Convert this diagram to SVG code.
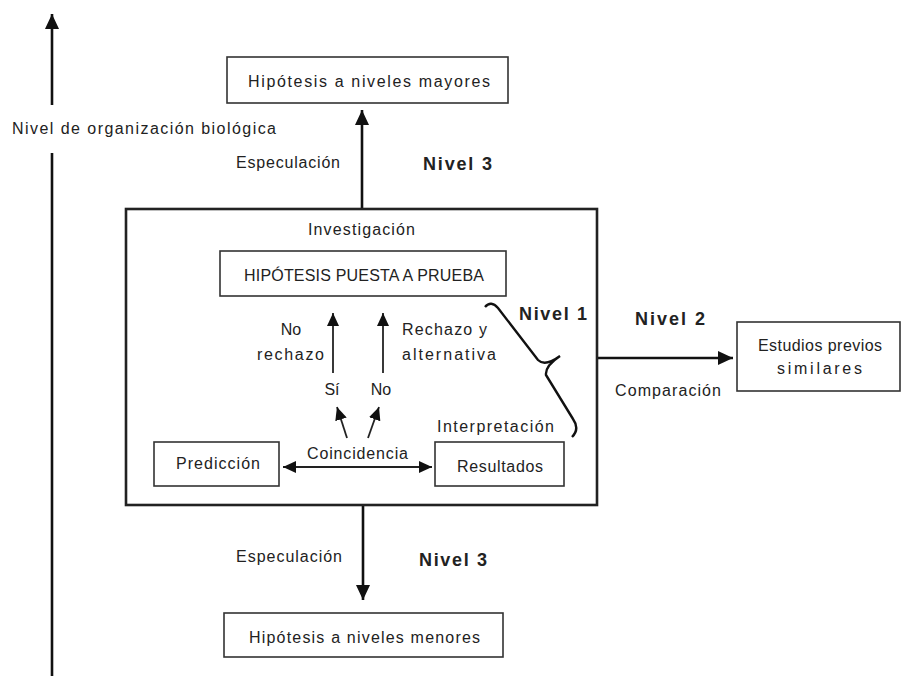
<svg xmlns="http://www.w3.org/2000/svg" width="908" height="676" viewBox="0 0 908 676">
<defs>
<style>
.t{font-family:"Liberation Sans",Arial,sans-serif;font-size:16px;fill:#222}
.b{font-family:"Liberation Sans",Arial,sans-serif;font-size:18px;font-weight:bold;fill:#222}
.box{fill:#fff;stroke:#333;stroke-width:1.6}
.big{fill:none;stroke:#222;stroke-width:2.6}
.ln{fill:none;stroke:#111;stroke-width:2.6}
.thin{fill:none;stroke:#222;stroke-width:1.8}
</style>
<marker id="ah" markerUnits="userSpaceOnUse" markerWidth="16" markerHeight="14" refX="15" refY="7" orient="auto-start-reverse"><path d="M0,0 L15,7 L0,14 z" fill="#111"/></marker>
<marker id="as" markerUnits="userSpaceOnUse" markerWidth="14" markerHeight="12" refX="13" refY="6" orient="auto-start-reverse"><path d="M0,0 L13,6 L0,12 z" fill="#111"/></marker>
</defs>
<rect width="908" height="676" fill="#fff"/>
<g id="connectors">
<line class="ln" x1="52" y1="105" x2="52" y2="14" marker-end="url(#ah)"/>
<line class="ln" x1="52" y1="153" x2="52" y2="676"/>
<line class="ln" x1="362" y1="208" x2="362" y2="110" marker-end="url(#ah)"/>
<line class="ln" x1="363" y1="505" x2="363" y2="600" marker-end="url(#ah)"/>
<line class="ln" x1="597" y1="358" x2="733" y2="358" marker-end="url(#ah)"/>
<line class="thin" x1="333" y1="373" x2="333" y2="313" marker-end="url(#as)"/>
<line class="thin" x1="383" y1="373" x2="383" y2="313" marker-end="url(#as)"/>
<line class="thin" x1="347" y1="438" x2="337" y2="407" marker-end="url(#as)"/>
<line class="thin" x1="368" y1="438" x2="379" y2="407" marker-end="url(#as)"/>
<line class="thin" x1="283" y1="467" x2="432" y2="467" marker-start="url(#as)" marker-end="url(#as)"/>
<path d="M485,307 Q491,300 498,308 L538,360 Q545,367 560,356 Q545,366 546,375 L573,419 Q580,429 572,437" fill="none" stroke="#111" stroke-width="2.4"/>
</g>
<g id="axis-label"><text class="t" x="12" y="134" textLength="264" lengthAdjust="spacing">Nivel de organización biológica</text></g>
<g id="top-box"><rect class="box" x="227" y="57" width="281" height="46"/><text class="t" x="248" y="87" textLength="242" lengthAdjust="spacing">Hipótesis a niveles mayores</text></g>
<g id="top-labels"><text class="t" x="236" y="168" textLength="104" lengthAdjust="spacing">Especulación</text><text class="b" x="423" y="170" textLength="69" lengthAdjust="spacing">Nivel 3</text></g>
<g id="investigacion"><rect class="big" x="126" y="209" width="471" height="296"/><text class="t" x="308" y="235" textLength="107" lengthAdjust="spacing">Investigación</text></g>
<g id="hipotesis"><rect class="box" x="220" y="251" width="286" height="45"/><text class="t" x="244" y="281" font-size="17" textLength="240" lengthAdjust="spacing">HIPÓTESIS PUESTA A PRUEBA</text></g>
<g id="inner-labels">
<text class="t" x="291" y="335" text-anchor="middle">No</text>
<text class="t" x="257" y="360" textLength="67" lengthAdjust="spacing">rechazo</text>
<text class="t" x="402" y="335" textLength="85" lengthAdjust="spacing">Rechazo y</text>
<text class="t" x="402" y="360" textLength="94" lengthAdjust="spacing">alternativa</text>
<text class="t" x="332" y="395" text-anchor="middle">Sí</text>
<text class="t" x="381" y="395" text-anchor="middle">No</text>
<text class="t" x="307" y="459" textLength="101" lengthAdjust="spacing">Coincidencia</text>
<text class="t" x="437" y="432" textLength="117" lengthAdjust="spacing">Interpretación</text>
<text class="b" x="519" y="320" textLength="68" lengthAdjust="spacing">Nivel 1</text>
</g>
<g id="prediccion"><rect class="box" x="154" y="442" width="125" height="44"/><text class="t" x="176" y="469" textLength="84" lengthAdjust="spacing">Predicción</text></g>
<g id="resultados"><rect class="box" x="435" y="442" width="129" height="44"/><text class="t" x="457" y="472" textLength="86" lengthAdjust="spacing">Resultados</text></g>
<g id="nivel2"><text class="b" x="635" y="325" textLength="70" lengthAdjust="spacing">Nivel 2</text><text class="t" x="615" y="396" textLength="106" lengthAdjust="spacing">Comparación</text></g>
<g id="estudios"><rect class="box" x="737" y="322" width="163" height="69"/><text class="t" x="758" y="351" textLength="124" lengthAdjust="spacing">Estudios previos</text><text class="t" x="777" y="374" textLength="85" lengthAdjust="spacing">similares</text></g>
<g id="bottom-labels"><text class="t" x="236" y="562" textLength="106" lengthAdjust="spacing">Especulación</text><text class="b" x="419" y="566" textLength="68" lengthAdjust="spacing">Nivel 3</text></g>
<g id="bottom-box"><rect class="box" x="224" y="613" width="279" height="44"/><text class="t" x="249" y="643" textLength="231" lengthAdjust="spacing">Hipótesis a niveles menores</text></g>
</svg>
